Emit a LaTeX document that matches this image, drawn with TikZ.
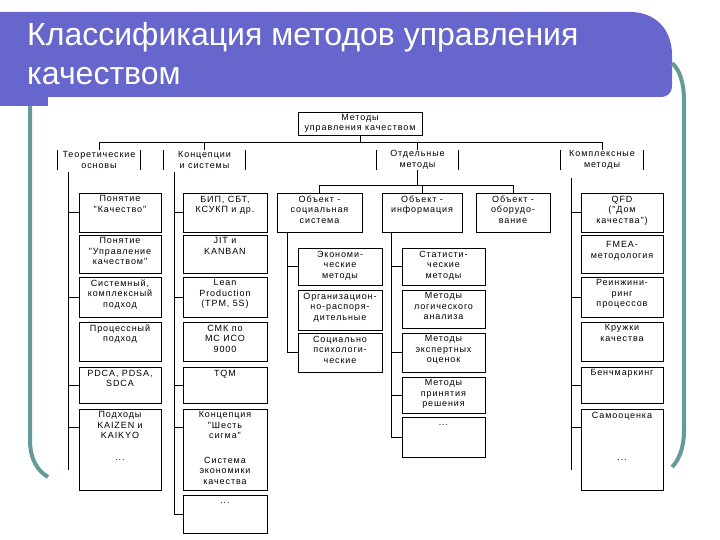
\documentclass[tikz,border=0pt]{standalone}
\usepackage{fontspec}
\setmainfont{Liberation Sans}
\newfontfamily\cellfont[LetterSpace=10]{Liberation Sans}
\newcommand\celltext{\cellfont\fontsize{9}{10.5}\selectfont}
\newcommand\titletext{\fontsize{32}{38}\selectfont}
\definecolor{bandblue}{RGB}{102,102,204}
\definecolor{rimteal}{RGB}{102,153,153}

\begin{document}
\begin{tikzpicture}[x=1pt,y=-1pt,
	catbox/.style={draw,line width=.8pt,minimum width=82pt,inner sep=0pt},
	cattext/.style={font=\celltext,align=center,anchor=north,inner sep=3pt},
	grouphead/.style={font=\celltext,align=center,minimum width=82pt,minimum height=20pt,inner sep=0pt},
	wire/.style={line width=.8pt}]
\fill[white] (0,0) rectangle (720,540);
\useasboundingbox (0,0) rectangle (720,540);
% slide frame
\fill[bandblue] (0,12) -- (630,12) .. controls (656,12) and (672,30) .. (672,55) -- (672,85) .. controls (672,93) and (668,97) .. (660,97) -- (0,97) -- cycle;
\fill[bandblue] (0,97) rectangle (48,106);
\draw[rimteal,line width=4pt] (30,106) -- (30,440) .. controls (30,460) and (38,471) .. (48,477);
\draw[rimteal,line width=4pt] (672,63) .. controls (680,70) and (684,84) .. (684,100) -- (684,430) .. controls (684,448) and (679,460) .. (672,467);
\node[white,font=\titletext,anchor=base west,inner sep=0pt] (title1) at (27,46) {Классификация методов управления};
\node[white,font=\titletext,anchor=base west,inner sep=0pt] (title2) at (27,85) {качеством};

% root and the four groups
\node[catbox,minimum width=124pt,minimum height=23pt,font=\celltext,align=center] (root) at (360,123.5) {Методы\\управления качеством};
\node[grouphead] (theo) at (99,160) {Теоретические\\основы};
\node[grouphead] (conc) at (204.5,160) {Концепции\\и системы};
\node[grouphead] (sep) at (417.5,160) {Отдельные\\методы};
\node[grouphead] (comp) at (602,160) {Комплексные\\методы};
\coordinate (hub) at (362,142);
\draw[wire] (root.south) -- (root.south |- hub);
\draw[wire] (theo.north |- hub) -- (comp.north |- hub);
\foreach \h in {theo,conc,sep,comp} {
	\draw[wire] (\h.north |- hub) -- (\h.north);
	\draw[wire] (\h.north west) -- (\h.south west);
	\draw[wire] (\h.north east) -- (\h.south east);
}

% theoretical basis
\node[catbox,minimum height=39pt,label={[cattext]north:{Понятие\\"Качество"}}] (t1) at (120,212.5) {};
\node[catbox,minimum height=38pt,label={[cattext]north:{Понятие\\"Управление\\качеством"}}] (t2) at (120,254) {};
\node[catbox,minimum height=40pt,label={[cattext]north:{Системный,\\комплексный\\подход}}] (t3) at (120,297) {};
\node[catbox,minimum height=39pt,label={[cattext]north:{Процессный\\подход}}] (t4) at (120,341.5) {};
\node[catbox,minimum height=36pt,label={[cattext]north:{PDCA, PDSA,\\SDCA}}] (t5) at (120,385) {};
\node[catbox,minimum height=81pt,label={[cattext]north:{Подходы\\KAIZEN и\\KAIKYO}},label={[cattext,yshift=-48pt]north:{...}}] (t6) at (120,449.5) {};
\coordinate (tbt) at (68,172);
\coordinate (tbb) at (68,470);
\draw[wire] (tbt) -- (tbb);
\coordinate (t6k) at ([yshift=-19pt]t6.north west);
\foreach \b in {t1,t3,t5}
	\draw[wire] (\b.west -| tbt) -- (\b.west);
\draw[wire] (t6k -| tbt) -- (t6k);

% concepts and systems
\node[catbox,minimum width=84pt,minimum height=39pt,label={[cattext]north:{БИП, СБТ,\\КСУКП и др.}}] (c1) at (225,212.5) {};
\node[catbox,minimum width=84pt,minimum height=38pt,label={[cattext]north:{JIT и\\KANBAN}}] (c2) at (225,254) {};
\node[catbox,minimum width=84pt,minimum height=40pt,label={[cattext]north:{Lean\\Production\\(TPM, 5S)}}] (c3) at (225,297) {};
\node[catbox,minimum width=84pt,minimum height=39pt,label={[cattext]north:{СМК по\\МС ИСО\\9000}}] (c4) at (225,341.5) {};
\node[catbox,minimum width=84pt,minimum height=36pt,label={[cattext]north:{TQM}}] (c5) at (225,385) {};
\node[catbox,minimum width=84pt,minimum height=81pt,label={[cattext]north:{Концепция\\"Шесть\\сигма"}},label={[cattext,yshift=-45pt]north:{Система\\экономики\\качества}}] (c6) at (225,449.5) {};
\node[catbox,minimum width=84pt,minimum height=38pt,label={[cattext,yshift=-5pt]north:{...}}] (c7) at (225,514) {};
\coordinate (cbt) at (174,172);
\draw[wire] (cbt) -- (c7.west -| cbt) -- (c7.west);
\coordinate (c6k) at ([yshift=-19pt]c6.north west);
\foreach \b in {c1,c3,c5}
	\draw[wire] (\b.west -| cbt) -- (\b.west);
\draw[wire] (c6k -| cbt) -- (c6k);

% separate methods
\node[catbox,minimum width=85pt,minimum height=39pt,label={[cattext]north:{Объект -\\социальная\\система}}] (oA) at (319.5,212.5) {};
\node[catbox,minimum width=80pt,minimum height=39pt,label={[cattext]north:{Объект -\\информация}}] (oB) at (422,212.5) {};
\node[catbox,minimum width=74pt,minimum height=39pt,label={[cattext]north:{Объект -\\оборудо-\\вание}}] (oC) at (513,212.5) {};
\coordinate (sj) at (417.5,185);
\draw[wire] (sep.south) -- (sj);
\draw[wire] (oA.north |- sj) -- (oC.north |- sj);
\foreach \o in {oA,oB,oC}
	\draw[wire] (\o.north |- sj) -- (\o.north);

\node[catbox,minimum width=84pt,minimum height=37pt,label={[cattext]north:{Экономи-\\ческие\\методы}}] (e1) at (340,266.5) {};
\node[catbox,minimum width=84pt,minimum height=40pt,label={[cattext]north:{Организацион-\\но-распоря-\\дительные}}] (e2) at (340,310) {};
\node[catbox,minimum width=84pt,minimum height=39pt,label={[cattext]north:{Социально\\психологи-\\ческие}}] (e3) at (340,352.5) {};
\coordinate (ebt) at (287,232);
\draw[wire] (ebt) -- (e3.west -| ebt) -- (e3.west);
\draw[wire] (e1.west -| ebt) -- (e1.west);

\node[catbox,minimum width=83pt,minimum height=37pt,label={[cattext]north:{Статисти-\\ческие\\методы}}] (s1) at (443.5,266.5) {};
\node[catbox,minimum width=83pt,minimum height=38pt,label={[cattext]north:{Методы\\логического\\анализа}}] (s2) at (443.5,309) {};
\node[catbox,minimum width=83pt,minimum height=39pt,label={[cattext]north:{Методы\\экспертных\\оценок}}] (s3) at (443.5,352.5) {};
\node[catbox,minimum width=83pt,minimum height=36pt,label={[cattext]north:{Методы\\принятия\\решения}}] (s4) at (443.5,395) {};
\node[catbox,minimum width=83pt,minimum height=40pt,label={[cattext,yshift=-5pt]north:{...}}] (s5) at (443.5,437) {};
\coordinate (sbt) at (391,232);
\draw[wire] (sbt) -- (s5.west -| sbt) -- (s5.west);
\foreach \b in {s1,s3,s4}
	\draw[wire] (\b.west -| sbt) -- (\b.west);

% complex methods
\node[catbox,minimum height=39pt,label={[cattext]north:{QFD\\("Дом\\качества")}}] (k1) at (622,212.5) {};
\node[catbox,minimum height=38pt,label={[cattext,yshift=-4pt]north:{FMEA-\\методология}}] (k2) at (622,254) {};
\node[catbox,minimum height=40pt,label={[cattext]north:{Реинжини-\\ринг\\процессов}}] (k3) at (622,297) {};
\node[catbox,minimum height=39pt,label={[cattext]north:{Кружки\\качества}}] (k4) at (622,341.5) {};
\node[catbox,minimum height=36pt,label={[cattext]north:{Бенчмаркинг}}] (k5) at (622,385) {};
\node[catbox,minimum height=81pt,label={[cattext]north:{Самооценка}},label={[cattext,yshift=-48pt]north:{...}}] (k6) at (622,449.5) {};
\coordinate (kbt) at (571,178);
\coordinate (kbb) at (571,470);
\draw[wire] (kbt) -- (kbb);
\coordinate (k6k) at ([yshift=-19pt]k6.north west);
\foreach \b in {k1,k3,k5}
	\draw[wire] (\b.west -| kbt) -- (\b.west);
\draw[wire] (k6k -| kbt) -- (k6k);
\end{tikzpicture}
\end{document}
